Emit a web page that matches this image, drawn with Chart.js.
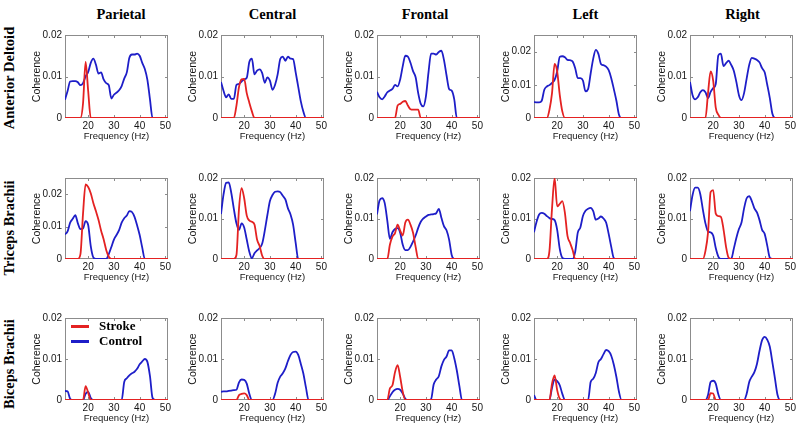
<!DOCTYPE html>
<html><head><meta charset="utf-8">
<script src="https://cdn.jsdelivr.net/npm/chart.js@4.4.0/dist/chart.umd.min.js"></script>
<style>
html,body{margin:0;padding:0;background:#fff;}
#wrap{position:relative;width:800px;height:430px;overflow:hidden;background:#fff;}
#wrap canvas{position:absolute;}
.coltitle{position:absolute;width:120px;height:16px;text-align:center;font:bold 14.5px/16px "Liberation Serif","Times New Roman",serif;color:#000;white-space:nowrap;}
.rowtitle{position:absolute;width:200px;height:16px;text-align:center;font:bold 14.5px/16px "Liberation Serif","Times New Roman",serif;color:#000;transform:rotate(-90deg);transform-origin:50% 50%;white-space:nowrap;}
.legline{position:absolute;height:3px;}
.legtext{position:absolute;font:bold 13px/16px "Liberation Serif","Times New Roman",serif;color:#000;white-space:nowrap;}
</style></head>
<body><div id="wrap"></div>
<script>
// ---------- data ----------
const freq = [11,12,13,14,15,16,17,18,19,20,
              21,22,23,24,25,26,27,28,29,30,
              31,32,33,34,35,36,37,38,39,40,
              41,42,43,44,45,46,47,48,49,50,51];
const columns = ['Parietal','Central','Frontal','Left','Right'];
const rowNames = ['Anterior Deltoid','Triceps Brachii','Biceps Brachii'];
const seriesNames = ['Stroke','Control'];
const xTicks = [20,30,40,50];
const yTicks = [0,0.01,0.02];
const yMaxAD = [0.02,0.02,0.02,0.025,0.02];
const yMaxTB = [0.025,0.02,0.02,0.02,0.02];
const yMaxBB = [0.02,0.02,0.02,0.02,0.02];

// Anterior Deltoid
const adParietalStroke = [0,0,0,0,0,0,0,0.0035,0.0135,0.0065,
  0,0,0,0,0,0,0,0,0,0, 0,0,0,0,0,0,0,0,0,0, 0,0,0,0,0,0,0,0,0,0,0];
const adParietalControl = [0.0044,0.0065,0.0088,0.0089,0.0089,0.0086,0.0079,0.0084,0.0100,0.0111,
  0.0133,0.0143,0.0129,0.0107,0.0110,0.0093,0.0084,0.0079,0.0047,0.0056,
  0.0061,0.0067,0.0077,0.0095,0.0110,0.0145,0.0153,0.0153,0.0155,0.0150,
  0.0133,0.0118,0.0092,0.0045,0,0,0,0,0,0,0];
const adCentralStroke = [0,0,0,0,0,0,0.0030,0.0075,0.0093,0.0094,
  0.0060,0.0037,0.0016,0,0,0,0,0,0,0, 0,0,0,0,0,0,0,0,0,0, 0,0,0,0,0,0,0,0,0,0,0];
const adCentralControl = [0.0087,0.0065,0.0050,0.0057,0.0046,0.0046,0.0080,0.0082,0.0088,0.0093,
  0.0097,0.0135,0.0143,0.0105,0.0114,0.0117,0.0108,0.0085,0.0098,0.0090,
  0.0068,0.0080,0.0105,0.0142,0.0148,0.0138,0.0148,0.0143,0.0142,0.0110,
  0.0075,0.0040,0.0015,0,0,0,0,0,0,0,0];
const adFrontalStroke = [0,0,0,0,0,0,0,0,0.0030,0.0034,
  0.0039,0.0041,0.0030,0.0021,0.0020,0.0020,0.0020,0,0,0, 0,0,0,0,0,0,0,0,0,0, 0,0,0,0,0,0,0,0,0,0,0];
const adFrontalControl = [0.0063,0.0050,0.0045,0.0052,0.0062,0.0066,0.0070,0.0080,0.0076,0.0093,
  0.0125,0.0150,0.0148,0.0133,0.0113,0.0098,0.0060,0.0034,0.0028,0.0052,
  0.0110,0.0155,0.0155,0.0153,0.0159,0.0162,0.0140,0.0103,0.0070,0.0066,
  0.0045,0,0,0,0,0,0,0,0,0,0];
const adLeftStroke = [0,0,0,0,0,0,0.0025,0.0075,0.0163,0.0140,
  0.0070,0.0020,0,0,0,0,0,0,0,0, 0,0,0,0,0,0,0,0,0,0, 0,0,0,0,0,0,0,0,0,0,0];
const adLeftControl = [0.0048,0.0047,0.0047,0.0052,0.0085,0.0095,0.0099,0.0106,0.0115,0.0140,
  0.0184,0.0186,0.0183,0.0175,0.0174,0.0170,0.0150,0.0120,0.0120,0.0113,
  0.0080,0.0087,0.0134,0.0179,0.0205,0.0193,0.0163,0.0159,0.0155,0.0144,
  0.0120,0.0087,0.0052,0.0010,0,0,0,0,0,0,0];
const adRightStroke = [0,0,0,0,0,0,0,0.0060,0.0112,0.0090,
  0.0025,0.0008,0,0,0,0,0,0,0,0, 0,0,0,0,0,0,0,0,0,0, 0,0,0,0,0,0,0,0,0,0,0];
const adRightControl = [0.0087,0.0055,0.0045,0.0050,0.0062,0.0067,0.0062,0.0048,0.0063,0.0072,
  0.0082,0.0151,0.0155,0.0125,0.0132,0.0138,0.0128,0.0114,0.0087,0.0055,
  0.0043,0.0060,0.0095,0.0128,0.0145,0.0143,0.0140,0.0134,0.0120,0.0110,
  0.0080,0.0048,0.0010,0,0,0,0,0,0,0,0];

// Triceps Brachii
const tbParietalStroke = [0,0,0,0,0,0,0.0015,0.0140,0.0230,0.0222,
  0.0203,0.0173,0.0148,0.0121,0.0088,0.0061,0.0028,0.0007,0,0, 0,0,0,0,0,0,0,0,0,0, 0,0,0,0,0,0,0,0,0,0,0];
const tbParietalControl = [0.0076,0.0085,0.0112,0.0124,0.0135,0.0110,0.0092,0.0094,0.0117,0.0105,
  0.0040,0.0005,0,0,0,0,0,0.0015,0.0037,0.0060,
  0.0074,0.0089,0.0112,0.0126,0.0134,0.0148,0.0145,0.0130,0.0104,0.0074,
  0.0035,0,0,0,0,0,0,0,0,0,0];
const tbCentralStroke = [0,0,0,0,0,0,0.0010,0.0125,0.0175,0.0150,
  0.0107,0.0095,0.0092,0.0085,0.0048,0.0032,0.0008,0,0,0, 0,0,0,0,0,0,0,0,0,0, 0,0,0,0,0,0,0,0,0,0,0];
const tbCentralControl = [0.0111,0.0160,0.0188,0.0189,0.0163,0.0123,0.0088,0.0072,0.0088,0.0078,
  0.0048,0.0018,0.0002,0.0014,0.0021,0.0027,0.0038,0.0070,0.0108,0.0143,
  0.0158,0.0166,0.0167,0.0165,0.0156,0.0147,0.0125,0.0110,0.0085,0.0040,
  0,0,0,0,0,0,0,0,0,0,0];
const tbFrontalStroke = [0,0,0,0,0,0.0035,0.0055,0.0064,0.0085,0.0070,
  0.0058,0.0090,0.0097,0.0085,0.0065,0.0030,0,0,0,0, 0,0,0,0,0,0,0,0,0,0, 0,0,0,0,0,0,0,0,0,0,0];
const tbFrontalControl = [0.0110,0.0145,0.0150,0.0138,0.0095,0.0050,0.0066,0.0074,0.0076,0.0065,
  0.0035,0.0022,0.0022,0.0030,0.0043,0.0058,0.0077,0.0092,0.0100,0.0105,
  0.0109,0.0110,0.0111,0.0113,0.0124,0.0102,0.0081,0.0071,0.0048,0.0010,
  0,0,0,0,0,0,0,0,0,0,0];
const tbLeftStroke = [0,0,0,0,0,0,0.0020,0.0125,0.0200,0.0130,
  0.0136,0.0143,0.0114,0.0057,0.0040,0.0022,0,0,0,0, 0,0,0,0,0,0,0,0,0,0, 0,0,0,0,0,0,0,0,0,0,0];
const tbLeftControl = [0.0066,0.0092,0.0110,0.0114,0.0112,0.0106,0.0101,0.0099,0.0096,0.0072,
  0.0025,0.0003,0,0,0,0,0.0018,0.0065,0.0078,0.0106,
  0.0119,0.0124,0.0126,0.0118,0.0097,0.0100,0.0105,0.0100,0.0090,0.0062,
  0.0030,0.0002,0,0,0,0,0,0,0,0,0];
const tbRightStroke = [0,0,0,0,0,0,0.0020,0.0065,0.0165,0.0170,
  0.0112,0.0106,0.0104,0.0074,0.0030,0.0003,0,0,0,0, 0,0,0,0,0,0,0,0,0,0, 0,0,0,0,0,0,0,0,0,0,0];
const tbRightControl = [0.0118,0.0158,0.0176,0.0176,0.0160,0.0122,0.0088,0.0068,0.0066,0.0058,
  0.0027,0.0006,0,0,0,0,0,0.0025,0.0052,0.0074,
  0.0090,0.0125,0.0150,0.0155,0.0143,0.0125,0.0115,0.0096,0.0072,0.0062,
  0.0033,0.0003,0,0,0,0,0,0,0,0,0];

// Biceps Brachii
const bbParietalStroke = [0,0,0,0,0,0,0,0,0.0034,0.0018,
  0,0,0,0,0,0,0,0,0,0, 0,0,0,0,0,0,0,0,0,0, 0,0,0,0,0,0,0,0,0,0,0];
const bbParietalControl = [0.0022,0.0021,0.0003,0,0,0,0,0,0.0015,0.0020,
  0.0005,0,0,0,0,0,0,0,0,0,
  0,0,0,0.0044,0.0053,0.0060,0.0065,0.0069,0.0076,0.0087,
  0.0094,0.0100,0.0093,0.0058,0.0005,0,0,0,0,0,0];
const bbCentralStroke = [0,0,0,0,0,0,0,0.0012,0.0015,0.0016,
  0.0012,0,0,0,0,0,0,0,0,0, 0,0,0,0,0,0,0,0,0,0, 0,0,0,0,0,0,0,0,0,0,0];
const bbCentralControl = [0.0020,0.0021,0.0021,0.0022,0.0023,0.0024,0.0025,0.0043,0.0050,0.0049,
  0.0040,0.0015,0,0,0,0,0,0,0,0,
  0,0.0015,0.0042,0.0057,0.0065,0.0077,0.0095,0.0110,0.0117,0.0118,
  0.0110,0.0088,0.0064,0.0030,0,0,0,0,0,0,0];
const bbFrontalStroke = [0,0,0,0,0,0.0028,0.0036,0.0068,0.0085,0.0056,
  0.0020,0,0,0,0,0,0,0,0,0, 0,0,0,0,0,0,0,0,0,0, 0,0,0,0,0,0,0,0,0,0,0];
const bbFrontalControl = [0,0,0,0,0,0.0009,0.0019,0.0025,0.0027,0.0025,
  0.0016,0.0003,0,0,0,0,0,0,0,0,
  0,0.0002,0.0038,0.0050,0.0058,0.0082,0.0098,0.0106,0.0121,0.0121,
  0.0102,0.0072,0.0034,0,0,0,0,0,0,0,0];
const bbLeftStroke = [0,0,0,0,0,0,0,0.0040,0.0060,0.0024,
  0.0003,0,0,0,0,0,0,0,0,0, 0,0,0,0,0,0,0,0,0,0, 0,0,0,0,0,0,0,0,0,0,0];
const bbLeftControl = [0.0012,0,0,0,0,0,0,0.0030,0.0050,0.0046,
  0.0036,0.0015,0,0,0,0,0,0,0,0,
  0,0,0.0044,0.0052,0.0066,0.0092,0.0100,0.0112,0.0122,0.0119,
  0.0108,0.0086,0.0056,0.0020,0,0,0,0,0,0,0];
const bbRightStroke = [0,0,0,0,0,0,0,0,0.0017,0.0016,
  0,0,0,0,0,0,0,0,0,0, 0,0,0,0,0,0,0,0,0,0, 0,0,0,0,0,0,0,0,0,0,0];
const bbRightControl = [0,0,0,0,0,0,0,0.0012,0.0044,0.0047,
  0.0040,0.0014,0,0,0,0,0,0,0,0,
  0,0,0.0015,0.0044,0.0057,0.0068,0.0088,0.0120,0.0146,0.0154,
  0.0147,0.0130,0.0092,0.0052,0.0012,0,0,0,0,0,0];

// ---------- tables built from the arrays ----------
const strokeTable = [
  [adParietalStroke, adCentralStroke, adFrontalStroke, adLeftStroke, adRightStroke],
  [tbParietalStroke, tbCentralStroke, tbFrontalStroke, tbLeftStroke, tbRightStroke],
  [bbParietalStroke, bbCentralStroke, bbFrontalStroke, bbLeftStroke, bbRightStroke]];
const controlTable = [
  [adParietalControl, adCentralControl, adFrontalControl, adLeftControl, adRightControl],
  [tbParietalControl, tbCentralControl, tbFrontalControl, tbLeftControl, tbRightControl],
  [bbParietalControl, bbCentralControl, bbFrontalControl, bbLeftControl, bbRightControl]];
const yMaxTable = [yMaxAD, yMaxTB, yMaxBB];

// ---------- layout / style ----------
const RED = '#e42222', BLUE = '#1e1ec8', TXT = '#151515', FRAME = '#8c8c8c';
const colLeft = [65, 221, 377, 534, 690];
const rowTop = [34, 177, 317];
const rowH = [84, 82, 83];
const plotW = 103, padL = 50, padT = 8, padR = 8, padB = 28;
const colTitleX = [121, 272.5, 425, 585.5, 742.5];
const rowTitleY = [78, 228, 364];

Chart.defaults.font.family = "'Liberation Sans', Arial, sans-serif";
Chart.defaults.color = TXT;

const framePlugin = {
  id: 'frameBox',
  beforeDatasetsDraw(chart) {
    const {ctx, chartArea: a} = chart;
    const xs = chart.scales.x, ys = chart.scales.y;
    ctx.save();
    ctx.strokeStyle = FRAME;
    ctx.lineWidth = 1;
    ctx.strokeRect(a.left + 0.5, a.top + 0.5, a.right - a.left - 1, a.bottom - a.top - 1);
    ctx.beginPath();
    xTicks.forEach(v => {
      const px = Math.round(xs.getPixelForValue(v)) + 0.5;
      ctx.moveTo(px, a.bottom); ctx.lineTo(px, a.bottom - 3);
      ctx.moveTo(px, a.top); ctx.lineTo(px, a.top + 3);
    });
    yTicks.forEach(v => {
      if (v <= 0) return;
      const py = Math.round(ys.getPixelForValue(v)) + 0.5;
      ctx.moveTo(a.left, py); ctx.lineTo(a.left + 3, py);
      ctx.moveTo(a.right, py); ctx.lineTo(a.right - 3, py);
    });
    ctx.stroke();
    ctx.restore();
  }
};

const wrap = document.getElementById('wrap');

columns.forEach((name, c) => {
  const d = document.createElement('div');
  d.className = 'coltitle';
  d.textContent = name;
  d.style.left = (colTitleX[c] - 60) + 'px';
  d.style.top = '6px';
  wrap.appendChild(d);
});
rowNames.forEach((name, r) => {
  const d = document.createElement('div');
  d.className = 'rowtitle';
  d.textContent = name;
  d.style.left = (8.5 - 100) + 'px';
  d.style.top = (rowTitleY[r] - 8) + 'px';
  wrap.appendChild(d);
});

for (let r = 0; r < 3; r++) {
  for (let c = 0; c < 5; c++) {
    const cv = document.createElement('canvas');
    const w = padL + plotW + padR, h = padT + rowH[r] + padB;
    cv.width = w; cv.height = h;
    cv.style.width = w + 'px'; cv.style.height = h + 'px';
    cv.style.left = (colLeft[c] - padL) + 'px';
    cv.style.top = (rowTop[r] - padT) + 'px';
    wrap.appendChild(cv);
    const s = strokeTable[r][c], k = controlTable[r][c];
    new Chart(cv, {
      type: 'line',
      data: {
        datasets: [
          {label: seriesNames[0], data: freq.map((f, i) => ({x: f, y: s[i]})), borderColor: RED,
           borderWidth: 1.8, pointRadius: 0, fill: false, cubicInterpolationMode: 'monotone'},
          {label: seriesNames[1], data: freq.map((f, i) => ({x: f, y: k[i]})), borderColor: BLUE,
           borderWidth: 1.8, pointRadius: 0, fill: false, cubicInterpolationMode: 'monotone'}
        ]
      },
      options: {
        responsive: false, animation: false, devicePixelRatio: 1, events: [],
        layout: {padding: {top: padT, right: padR, left: 0, bottom: 0}},
        plugins: {legend: {display: false}, tooltip: {enabled: false}},
        scales: {
          x: {
            type: 'linear', min: 11, max: 51,
            afterBuildTicks: sc => { sc.ticks = xTicks.map(v => ({value: v})); },
            afterFit: sc => { sc.height = padB; },
            grid: {display: false, drawTicks: false}, border: {display: false},
            ticks: {padding: 2, font: {size: 10}, color: TXT, maxRotation: 0, autoSkip: false,
                    callback: v => String(v)},
            title: {display: true, text: 'Frequency (Hz)', font: {size: 9.5}, color: TXT,
                    padding: {top: 0, bottom: 4}}
          },
          y: {
            type: 'linear', min: 0, max: yMaxTable[r][c],
            afterBuildTicks: sc => { sc.ticks = yTicks.map(v => ({value: v})); },
            afterFit: sc => { sc.width = padL; },
            grid: {display: false, drawTicks: false}, border: {display: false},
            ticks: {padding: 3, font: {size: 10}, color: TXT,
                    callback: v => (v === 0 ? '0' : v.toFixed(2))},
            title: {display: true, text: 'Coherence', font: {size: 10.5}, color: TXT,
                    padding: {top: 16, bottom: 0}}
          }
        }
      },
      plugins: [framePlugin]
    });
  }
}

// legend inside the Biceps Brachii / Parietal panel
const legColors = [RED, BLUE];
const legY = [326.7, 341.7];
seriesNames.forEach((name, i) => {
  const ln = document.createElement('div');
  ln.className = 'legline';
  ln.style.left = '71px'; ln.style.width = '18px';
  ln.style.top = (legY[i] - 1.5) + 'px';
  ln.style.background = legColors[i];
  wrap.appendChild(ln);
  const t = document.createElement('div');
  t.className = 'legtext';
  t.textContent = name;
  t.style.left = '99px';
  t.style.top = (legY[i] - 8.5) + 'px';
  wrap.appendChild(t);
});
</script>
</body></html>
